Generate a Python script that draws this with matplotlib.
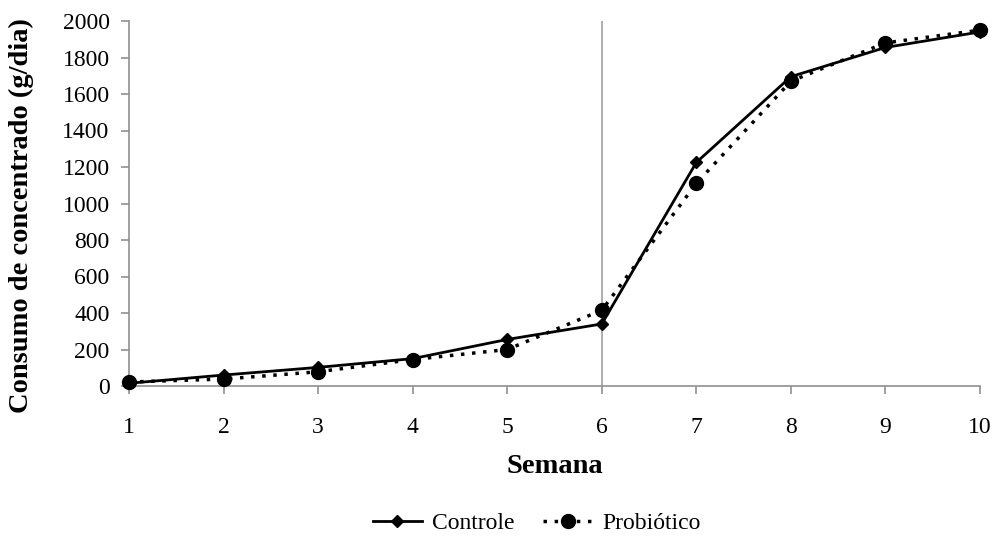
import matplotlib
matplotlib.use("Agg")
import matplotlib.pyplot as plt

semanas = [1, 2, 3, 4, 5, 6, 7, 8, 9, 10]
controle = [15, 60, 102, 150, 255, 340, 1225, 1695, 1855, 1940]
probiotico = [22, 38, 78, 145, 200, 415, 1110, 1670, 1880, 1950]
yticks = list(range(0, 2001, 200))

plt.rcParams['font.family'] = ['Liberation Serif', 'DejaVu Serif']

fig = plt.figure(figsize=(9.94, 5.36), dpi=100)
ax = fig.add_axes([129/994, 1-386/536, (980-129)/994, (386-21)/536])

ax.axvline(6, color='#a0a0a0', lw=1.2, zorder=1)
ax.plot(semanas, controle, color='black', lw=2, marker='D', ms=6, label='Controle', zorder=3, clip_on=False)
ax.plot(semanas, probiotico, color='black', lw=2.5, ls=(0, (1, 2.2)), marker='o', ms=10,
        label='Probiótico', zorder=3, clip_on=False)

ax.set_xlim(1, 10)
ax.set_ylim(0, 2000)
ax.set_xticks(semanas)
ax.set_yticks(yticks)
for s in ['top', 'right']:
    ax.spines[s].set_visible(False)
for s in ['left', 'bottom']:
    ax.spines[s].set_color('#909090')
    ax.spines[s].set_linewidth(1.2)
ax.tick_params(axis='both', colors='#909090', labelcolor='black', labelsize=17, length=6, width=1.2)
ax.tick_params(axis='x', pad=16)
ax.tick_params(axis='y', pad=8)
ax.set_xlabel('Semana', fontsize=20.5, fontweight='bold', labelpad=12)
ax.set_ylabel('Consumo de concentrado (g/dia)', fontsize=20.5, fontweight='bold')
ax.yaxis.set_label_coords(-0.112, 0.466)

fig.legend(loc='center', bbox_to_anchor=(0.54, 1-523/536), ncol=2, frameon=False,
           fontsize=17, handlelength=2.1, columnspacing=1.2, handletextpad=0.42)

fig.savefig('out.png', dpi=100)
